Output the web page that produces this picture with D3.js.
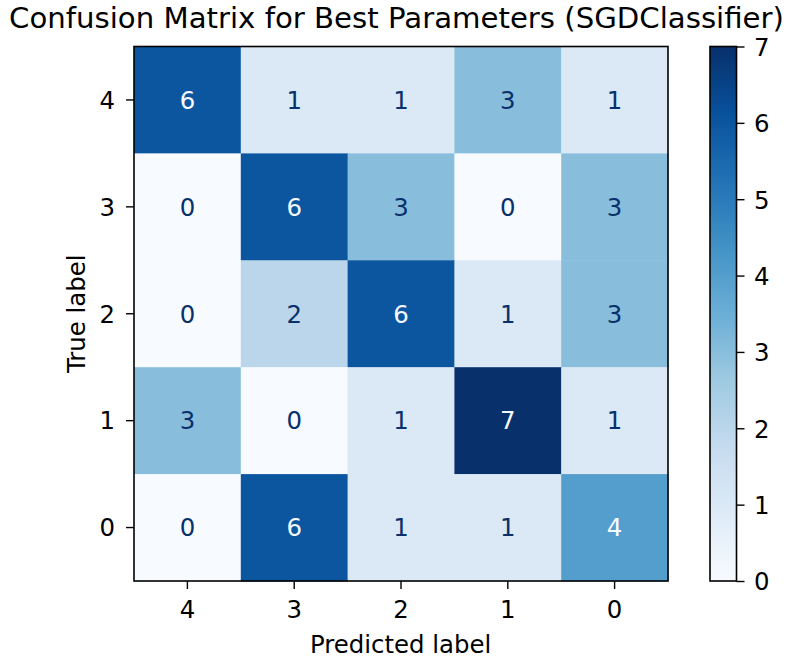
<!DOCTYPE html>
<html>
<head>
<meta charset="utf-8">
<script src="https://cdn.jsdelivr.net/npm/d3@7"></script>
<style>
  html, body { margin: 0; padding: 0; background: #fff; }
  svg text { font-family: "DejaVu Sans", sans-serif; fill: #000; }
</style>
</head>
<body>
<svg id="chart" width="794" height="658"></svg>
<script>
// Class labels, in display order (left-to-right and top-to-bottom)
const predictedLabels = ["4", "3", "2", "1", "0"];
const trueLabels = ["4", "3", "2", "1", "0"];

// Confusion counts, one row per true label (same order as trueLabels)
const row4 = [6, 1, 1, 3, 1];
const row3 = [0, 6, 3, 0, 3];
const row2 = [0, 2, 6, 1, 3];
const row1 = [3, 0, 1, 7, 1];
const row0 = [0, 6, 1, 1, 4];
const matrixRows = [row4, row3, row2, row1, row0];

const colorbarTicks = [0, 1, 2, 3, 4, 5, 6, 7];
const titleText = "Confusion Matrix for Best Parameters (SGDClassifier)";

// matplotlib "Blues" anchor colours, linearly interpolated
const bluesStops = ["#f7fbff", "#deebf7", "#c6dbef", "#9ecae1", "#6baed6",
                    "#4292c6", "#2171b5", "#08519c", "#08306b"];
const blues = d3.scaleLinear()
  .domain(d3.range(bluesStops.length).map(i => i / (bluesStops.length - 1)))
  .range(bluesStops)
  .interpolate(d3.interpolateRgb);

const vmin = 0, vmax = 7;
const norm = d3.scaleLinear().domain([vmin, vmax]).range([0, 1]);
const colorOf = v => blues(norm(v));

const cells = [];
matrixRows.forEach((row, i) => row.forEach((v, j) => {
  cells.push({ t: trueLabels[i], p: predictedLabels[j], v });
}));

const svg = d3.select("#chart");
const FS = 24.4;
const TITLE_FS = 29.2;

const plot = { x0: 134, x1: 668, y0: 46.5, y1: 581 };
const cb = { x0: 710, x1: 736.5 };

const x = d3.scaleBand().domain(predictedLabels).range([plot.x0, plot.x1]);
const y = d3.scaleBand().domain(trueLabels).range([plot.y0, plot.y1]);

// heatmap cells
svg.append("g").selectAll("rect").data(cells).join("rect")
  .attr("x", d => x(d.p))
  .attr("y", d => y(d.t))
  .attr("width", x.bandwidth() + 0.5)
  .attr("height", y.bandwidth() + 0.5)
  .attr("fill", d => colorOf(d.v));

// cell annotations: dark text on light cells, light text on dark ones
const thresh = (vmin + vmax) / 2;
svg.append("g").selectAll("text").data(cells).join("text")
  .attr("x", d => x(d.p) + x.bandwidth() / 2)
  .attr("y", d => y(d.t) + y.bandwidth() / 2)
  .attr("dy", "0.36em")
  .attr("text-anchor", "middle")
  .style("font-size", FS + "px")
  .style("fill", d => d.v < thresh ? blues(1) : blues(0))
  .text(d => d.v);

// axes
const tickLen = 8;
const xAxis = svg.append("g")
  .attr("transform", `translate(0,${plot.y1})`)
  .call(d3.axisBottom(x).tickSize(tickLen));
const yAxis = svg.append("g")
  .attr("transform", `translate(${plot.x0},0)`)
  .call(d3.axisLeft(y).tickSize(tickLen));
[xAxis, yAxis].forEach(g => {
  g.select(".domain").remove();
  g.selectAll(".tick line").attr("stroke", "#000").attr("stroke-width", 1.4);
  g.selectAll(".tick text").style("font-size", FS + "px").attr("fill", "#000")
    .style("font-family", "DejaVu Sans, sans-serif");
});
xAxis.selectAll(".tick text").attr("y", 37).attr("dy", 0);
yAxis.selectAll(".tick text").attr("x", -19).attr("dy", "0.36em");

// plot frame
svg.append("rect")
  .attr("x", plot.x0).attr("y", plot.y0)
  .attr("width", plot.x1 - plot.x0).attr("height", plot.y1 - plot.y0)
  .attr("fill", "none").attr("stroke", "#000").attr("stroke-width", 1.6);

// colorbar
const cbScale = d3.scaleLinear().domain([vmin, vmax]).range([plot.y1, plot.y0]);
const defs = svg.append("defs");
const grad = defs.append("linearGradient").attr("id", "cbGrad")
  .attr("x1", 0).attr("y1", 1).attr("x2", 0).attr("y2", 0);
d3.range(0, 1.0001, 0.02).forEach(t => {
  grad.append("stop").attr("offset", t).attr("stop-color", blues(t));
});
svg.append("rect")
  .attr("x", cb.x0).attr("y", plot.y0)
  .attr("width", cb.x1 - cb.x0).attr("height", plot.y1 - plot.y0)
  .attr("fill", "url(#cbGrad)")
  .attr("stroke", "#000").attr("stroke-width", 1.6);
const cbAxis = svg.append("g")
  .attr("transform", `translate(${cb.x1},0)`)
  .call(d3.axisRight(cbScale).tickValues(colorbarTicks).tickFormat(d3.format("d"))
        .tickSize(tickLen));
cbAxis.select(".domain").remove();
cbAxis.selectAll(".tick line").attr("stroke", "#000").attr("stroke-width", 1.4);
cbAxis.selectAll(".tick text").style("font-size", FS + "px").attr("fill", "#000")
  .style("font-family", "DejaVu Sans, sans-serif")
  .attr("x", 17.5).attr("dy", "0.36em");

// titles
svg.append("text")
  .attr("x", 400.7).attr("y", 652.5)
  .attr("text-anchor", "middle")
  .style("font-size", FS + "px")
  .text("Predicted label");
svg.append("text")
  .attr("transform", `translate(84.5,${(plot.y0 + plot.y1) / 2}) rotate(-90)`)
  .attr("text-anchor", "middle")
  .style("font-size", FS + "px")
  .text("True label");
svg.append("text")
  .attr("x", 396.5).attr("y", 28)
  .attr("text-anchor", "middle")
  .style("font-size", TITLE_FS + "px")
  .text(titleText);
</script>
</body>
</html>
